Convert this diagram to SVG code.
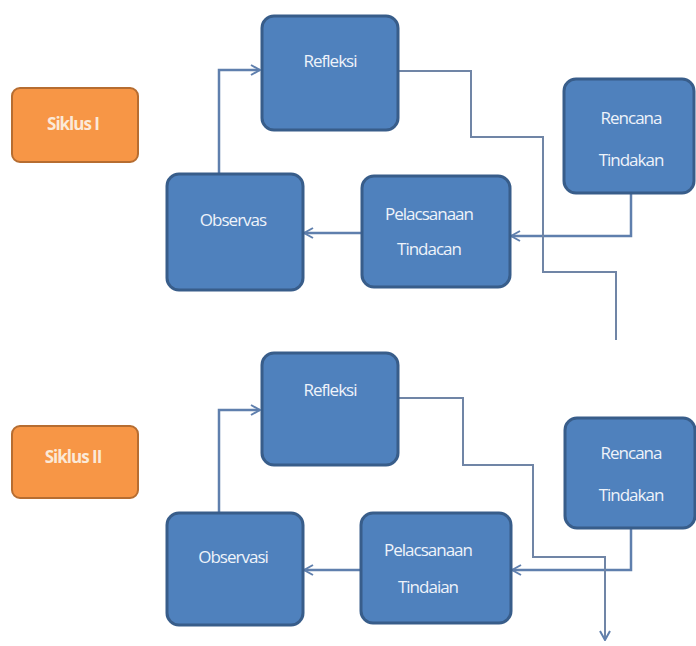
<svg xmlns="http://www.w3.org/2000/svg" width="696" height="646" viewBox="0 0 696 646">
<defs>
<style>
.node{fill:#4f81bd;stroke:#385d8a;stroke-width:3}
.cyc{fill:#f79646;stroke:#b66d31;stroke-width:2}
.t{font-family:"Open Sans","Liberation Sans",sans-serif;font-size:17px;fill:#eef3fa;text-anchor:middle;letter-spacing:-1px}
.tc{font-family:"Open Sans","Liberation Sans",sans-serif;font-size:17px;font-weight:bold;fill:#fbe9d8;text-anchor:middle;letter-spacing:-1px}
.c{fill:none;stroke:#5f7fad;stroke-width:2.5}
.cthin{fill:none;stroke:#7085a6;stroke-width:2}
</style>
<marker id="arr" viewBox="0 0 12 12" refX="11" refY="6" markerWidth="12" markerHeight="12" markerUnits="userSpaceOnUse" orient="auto">
<path d="M2,1 L11,6 L2,11" fill="none" stroke="#5f7fad" stroke-width="2"/>
</marker>
</defs>
<rect width="696" height="646" fill="#ffffff"/>
<g id="connectors">
<polyline class="c" points="219,173 219,70 260,70" marker-end="url(#arr)"/>
<polyline class="c" points="361,233 304,233" marker-end="url(#arr)"/>
<polyline class="c" points="631,193 631,236 511,236" marker-end="url(#arr)"/>
<polyline class="cthin" points="398,71 471,71 471,137 543,137 543,272 616,272 616,340"/>
<polyline class="c" points="219,512 219,410 260,410" marker-end="url(#arr)"/>
<polyline class="c" points="360,570 304,570" marker-end="url(#arr)"/>
<polyline class="c" points="631,528 631,570 512,570" marker-end="url(#arr)"/>
<polyline class="cthin" points="398,398 463,398 463,465 533,465 533,557 605,557 605,640" marker-end="url(#arr)"/>
</g>
<g id="siklus1"><rect class="cyc" x="12" y="88" width="126" height="74" rx="8"/><text class="tc" x="73" y="130">Siklus I</text></g>
<g id="refleksi1"><rect class="node" x="262" y="16" width="136" height="114" rx="12"/><text class="t" x="330" y="67">Refleksi</text></g>
<g id="observasi1"><rect class="node" x="167" y="174" width="136" height="116" rx="12"/><text class="t" x="233" y="226">Observas</text></g>
<g id="pelaksanaan1"><rect class="node" x="362" y="176" width="148" height="111" rx="12"/><text class="t" x="429" y="220">Pelacsanaan</text><text class="t" x="429" y="255">Tindacan</text></g>
<g id="rencana1"><rect class="node" x="564" y="79" width="130" height="114" rx="12"/><text class="t" x="631" y="124">Rencana</text><text class="t" x="631" y="166">Tindakan</text></g>
<g id="siklus2"><rect class="cyc" x="12" y="426" width="126" height="72" rx="8"/><text class="tc" x="73" y="463">Siklus II</text></g>
<g id="refleksi2"><rect class="node" x="262" y="353" width="136" height="112" rx="12"/><text class="t" x="330" y="396">Refleksi</text></g>
<g id="observasi2"><rect class="node" x="167" y="513" width="136" height="112" rx="12"/><text class="t" x="233" y="563">Observasi</text></g>
<g id="pelaksanaan2"><rect class="node" x="361" y="513" width="150" height="110" rx="12"/><text class="t" x="428" y="556">Pelacsanaan</text><text class="t" x="428" y="593">Tindaian</text></g>
<g id="rencana2"><rect class="node" x="565" y="418" width="130" height="110" rx="12"/><text class="t" x="631" y="459">Rencana</text><text class="t" x="631" y="501">Tindakan</text></g>
</svg>
